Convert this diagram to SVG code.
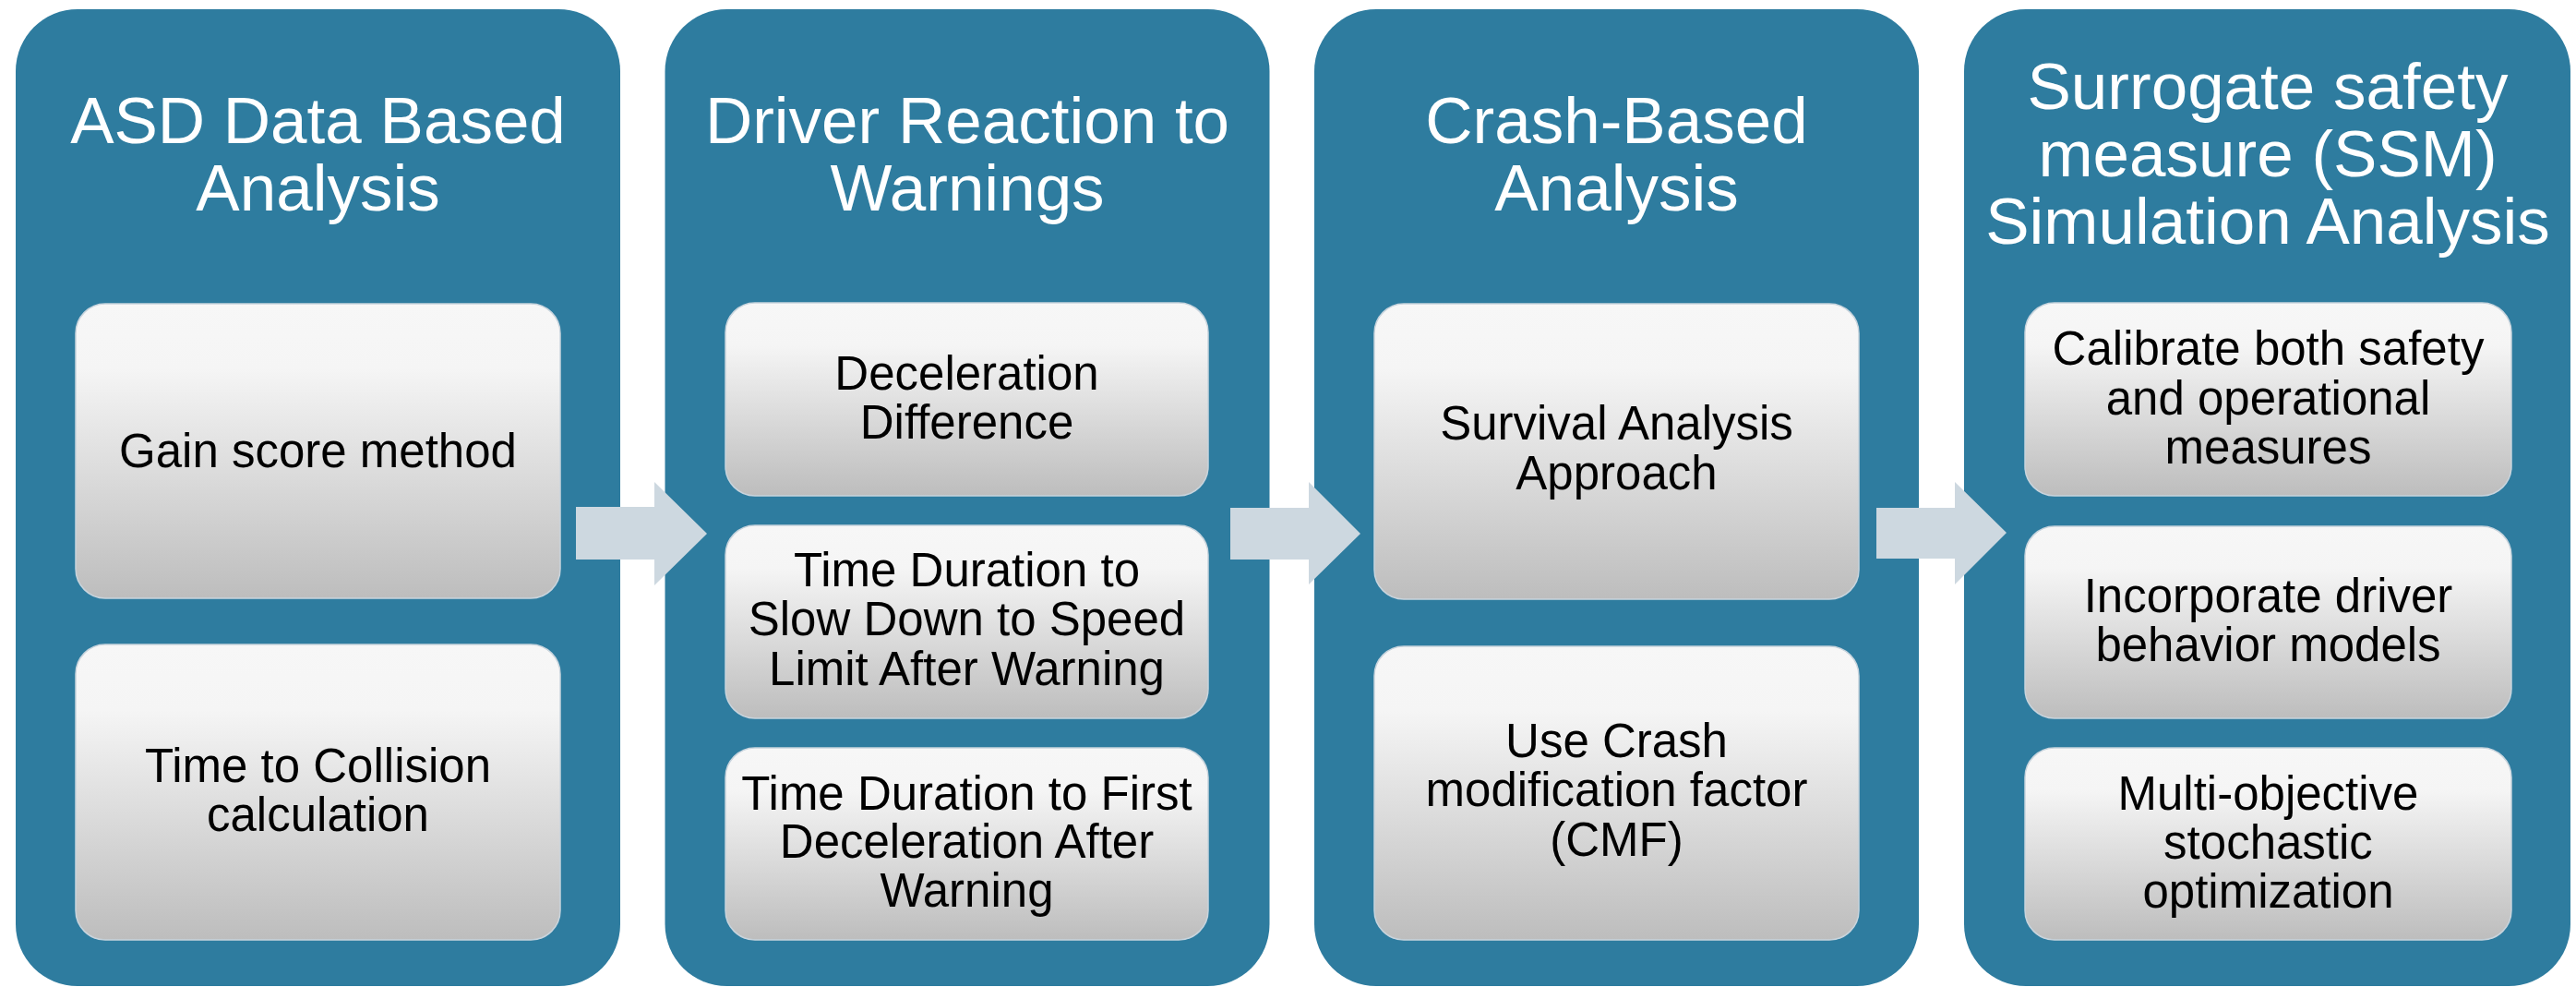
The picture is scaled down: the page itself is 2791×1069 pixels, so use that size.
<svg xmlns="http://www.w3.org/2000/svg" width="2791" height="1069" viewBox="0 0 2791 1069">
<defs>
<linearGradient id="boxGrad" x1="0" y1="0" x2="0" y2="1">
<stop offset="0" stop-color="#f7f7f7"/>
<stop offset="0.22" stop-color="#f5f5f5"/>
<stop offset="1" stop-color="#bdbdbd"/>
</linearGradient>
<style>
.panel{fill:#2e7c9f;}
.box{fill:url(#boxGrad);stroke:#c8d4dd;stroke-width:1.5;}
.title{font-family:"Liberation Sans",Arial,sans-serif;font-size:71px;fill:#ffffff;text-anchor:middle;}
.label{font-family:"Liberation Sans",Arial,sans-serif;font-size:51px;fill:#000000;text-anchor:middle;}
.arrow{fill:#cdd8e0;}
</style>
</defs>
<rect width="2791" height="1069" fill="#ffffff"/>

<g id="panel-asd">
<rect class="panel" x="17" y="10" width="655" height="1058" rx="67" ry="67"/>
<text class="title" x="344.5" y="155">ASD Data Based</text>
<text class="title" x="344.5" y="228">Analysis</text>
<g id="box-gain">
<rect class="box" x="82" y="329" width="525" height="319" rx="32" ry="32"/>
<text class="label" x="344.5" y="506">Gain score method</text>
</g>
<g id="box-ttc">
<rect class="box" x="82" y="698" width="525" height="320" rx="32" ry="32"/>
<text class="label" x="344.5" y="847">Time to Collision</text>
<text class="label" x="344.5" y="900">calculation</text>
</g>
</g>

<g id="panel-driver">
<rect class="panel" x="720.5" y="10" width="655" height="1058" rx="67" ry="67"/>
<text class="title" x="1048" y="155">Driver Reaction to</text>
<text class="title" x="1048" y="228">Warnings</text>
<g id="box-decel">
<rect class="box" x="786" y="328" width="523" height="209" rx="32" ry="32"/>
<text class="label" x="1047.5" y="422">Deceleration</text>
<text class="label" x="1047.5" y="475">Difference</text>
</g>
<g id="box-slow">
<rect class="box" x="786" y="569" width="523" height="209" rx="32" ry="32"/>
<text class="label" x="1047.5" y="635">Time Duration to</text>
<text class="label" x="1047.5" y="688">Slow Down to Speed</text>
<text class="label" x="1047.5" y="742">Limit After Warning</text>
</g>
<g id="box-first">
<rect class="box" x="786" y="810" width="523" height="208" rx="32" ry="32"/>
<text class="label" x="1047.5" y="877">Time Duration to First</text>
<text class="label" x="1047.5" y="929">Deceleration After</text>
<text class="label" x="1047.5" y="982">Warning</text>
</g>
</g>

<g id="panel-crash">
<rect class="panel" x="1424" y="10" width="655" height="1058" rx="67" ry="67"/>
<text class="title" x="1751.5" y="155">Crash-Based</text>
<text class="title" x="1751.5" y="228">Analysis</text>
<g id="box-survival">
<rect class="box" x="1489" y="329" width="525" height="320" rx="32" ry="32"/>
<text class="label" x="1751.5" y="476">Survival Analysis</text>
<text class="label" x="1751.5" y="530">Approach</text>
</g>
<g id="box-cmf">
<rect class="box" x="1489" y="700" width="525" height="318" rx="32" ry="32"/>
<text class="label" x="1751.5" y="820">Use Crash</text>
<text class="label" x="1751.5" y="873">modification factor</text>
<text class="label" x="1751.5" y="927">(CMF)</text>
</g>
</g>

<g id="panel-ssm">
<rect class="panel" x="2128" y="10" width="657" height="1058" rx="67" ry="67"/>
<text class="title" x="2457" y="118">Surrogate safety</text>
<text class="title" x="2457" y="191">measure (SSM)</text>
<text class="title" x="2457" y="264">Simulation Analysis</text>
<g id="box-calibrate">
<rect class="box" x="2194" y="328" width="527" height="209" rx="32" ry="32"/>
<text class="label" x="2457.5" y="395">Calibrate both safety</text>
<text class="label" x="2457.5" y="449">and operational</text>
<text class="label" x="2457.5" y="502">measures</text>
</g>
<g id="box-driver-models">
<rect class="box" x="2194" y="570" width="527" height="208" rx="32" ry="32"/>
<text class="label" x="2457.5" y="663">Incorporate driver</text>
<text class="label" x="2457.5" y="716">behavior models</text>
</g>
<g id="box-multi">
<rect class="box" x="2194" y="810" width="527" height="208" rx="32" ry="32"/>
<text class="label" x="2457.5" y="877">Multi-objective</text>
<text class="label" x="2457.5" y="930">stochastic</text>
<text class="label" x="2457.5" y="983">optimization</text>
</g>
</g>

<g id="connectors">
<polygon class="arrow" points="624,549 709,549 709,522 766,578 709,634 709,606 624,606"/>
<polygon class="arrow" points="1333,550 1418,550 1418,522 1474,578 1418,633 1418,606 1333,606"/>
<polygon class="arrow" points="2033,550 2118,550 2118,522 2174,577 2118,633 2118,605 2033,605"/>
</g>
</svg>
